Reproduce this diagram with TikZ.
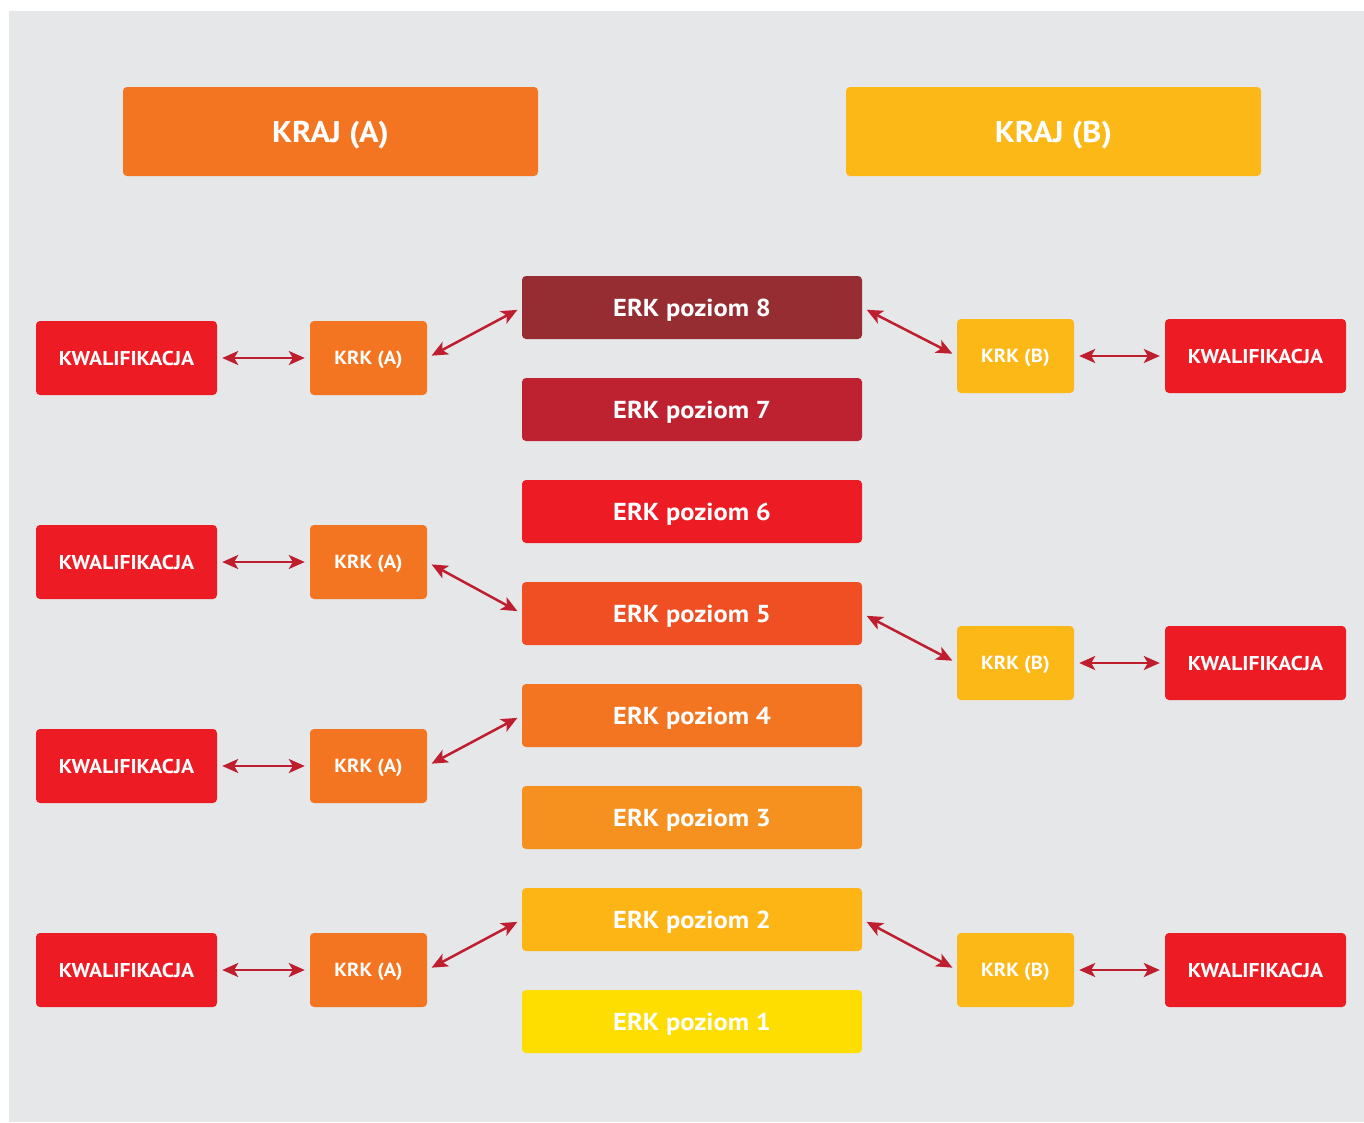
\documentclass[tikz,border=0pt]{standalone}
\usepackage{fontspec}
\setmainfont{PT Sans}[FakeStretch=1.08]
\usetikzlibrary{arrows.meta}
\definecolor{bg}{HTML}{E6E7E8}
\definecolor{cA}{HTML}{F47521}
\definecolor{cB}{HTML}{FCB817}
\definecolor{ckw}{HTML}{ED1C24}
\definecolor{c8}{HTML}{962D33}
\definecolor{c7}{HTML}{BE2230}
\definecolor{c6}{HTML}{ED1C24}
\definecolor{c5}{HTML}{F04E23}
\definecolor{c4}{HTML}{F47521}
\definecolor{c3}{HTML}{F6901E}
\definecolor{c2}{HTML}{FCB515}
\definecolor{c1}{HTML}{FEDD00}
\definecolor{arrc}{HTML}{BE1E2D}
\tikzset{
  box/.style={rounded corners=4pt, text=white, inner sep=0pt, draw=none, text depth=0pt},
  kraj/.style={box, minimum width=415pt, minimum height=89pt, text height=21pt, font=\bfseries\fontsize{30}{34}\selectfont},
  erk/.style={box, minimum width=340pt, minimum height=63pt, text height=17pt, font=\bfseries\fontsize{24.5}{30}\selectfont},
  kwal/.style={box, fill=ckw, minimum width=181pt, minimum height=74pt, text height=14pt, font=\bfseries\fontsize{20}{24}\selectfont},
  krk/.style={box, minimum width=117pt, minimum height=74pt, text height=13.5pt, font=\bfseries\fontsize{19}{24}\selectfont},
  arr/.style={draw=arrc, line width=2.5pt, {Stealth[length=16pt,width=14pt,inset=4pt]}-{Stealth[length=16pt,width=14pt,inset=4pt]}, shorten <=5pt, shorten >=5pt}
}
\begin{document}
\begin{tikzpicture}[x=1pt,y=-1pt]
\useasboundingbox (0,0) rectangle (1364,1122);
\fill[white] (0,0) rectangle (1364,1122);
\fill[bg] (9,11) rectangle (1364,1122);
% headers
\node[kraj, fill=cA] (kA) at (330.5,131.5) {KRAJ (A)};
\node[kraj, fill=cB] (kB) at (1053.5,131.5) {KRAJ (B)};
% ERK levels
\node[erk, fill=c8] (e8) at (692,307.5) {ERK poziom 8};
\node[erk, fill=c7] (e7) at (692,409.5) {ERK poziom 7};
\node[erk, fill=c6] (e6) at (692,511.5) {ERK poziom 6};
\node[erk, fill=c5] (e5) at (692,613.5) {ERK poziom 5};
\node[erk, fill=c4] (e4) at (692,715.5) {ERK poziom 4};
\node[erk, fill=c3] (e3) at (692,817.5) {ERK poziom 3};
\node[erk, fill=c2] (e2) at (692,919.5) {ERK poziom 2};
\node[erk, fill=c1] (e1) at (692,1021.5) {ERK poziom 1};
% left side
\node[kwal] (kwA1) at (126.5,358) {KWALIFIKACJA};
\node[kwal] (kwA2) at (126.5,562) {KWALIFIKACJA};
\node[kwal] (kwA3) at (126.5,766) {KWALIFIKACJA};
\node[kwal] (kwA4) at (126.5,970) {KWALIFIKACJA};
\node[krk, fill=cA] (ka1) at (368.5,358) {KRK (A)};
\node[krk, fill=cA] (ka2) at (368.5,562) {KRK (A)};
\node[krk, fill=cA] (ka3) at (368.5,766) {KRK (A)};
\node[krk, fill=cA] (ka4) at (368.5,970) {KRK (A)};
% right side
\node[krk, fill=cB] (kb1) at (1015.5,356) {KRK (B)};
\node[krk, fill=cB] (kb2) at (1015.5,663) {KRK (B)};
\node[krk, fill=cB] (kb3) at (1015.5,970) {KRK (B)};
\node[kwal] (kwB1) at (1255.5,356) {KWALIFIKACJA};
\node[kwal] (kwB2) at (1255.5,663) {KWALIFIKACJA};
\node[kwal] (kwB3) at (1255.5,970) {KWALIFIKACJA};
% connectors left
\draw[arr] (kwA1.east) -- (ka1.west);
\draw[arr] (kwA2.east) -- (ka2.west);
\draw[arr] (kwA3.east) -- (ka3.west);
\draw[arr] (kwA4.east) -- (ka4.west);
\draw[arr] (ka1.east) -- (e8.west);
\draw[arr] (ka2.east) -- (e5.west);
\draw[arr] (ka3.east) -- (e4.west);
\draw[arr] (ka4.east) -- (e2.west);
% connectors right
\draw[arr] (e8.east) -- (kb1.west);
\draw[arr] (e5.east) -- (kb2.west);
\draw[arr] (e2.east) -- (kb3.west);
\draw[arr] (kb1.east) -- (kwB1.west);
\draw[arr] (kb2.east) -- (kwB2.west);
\draw[arr] (kb3.east) -- (kwB3.west);
\end{tikzpicture}
\end{document}
